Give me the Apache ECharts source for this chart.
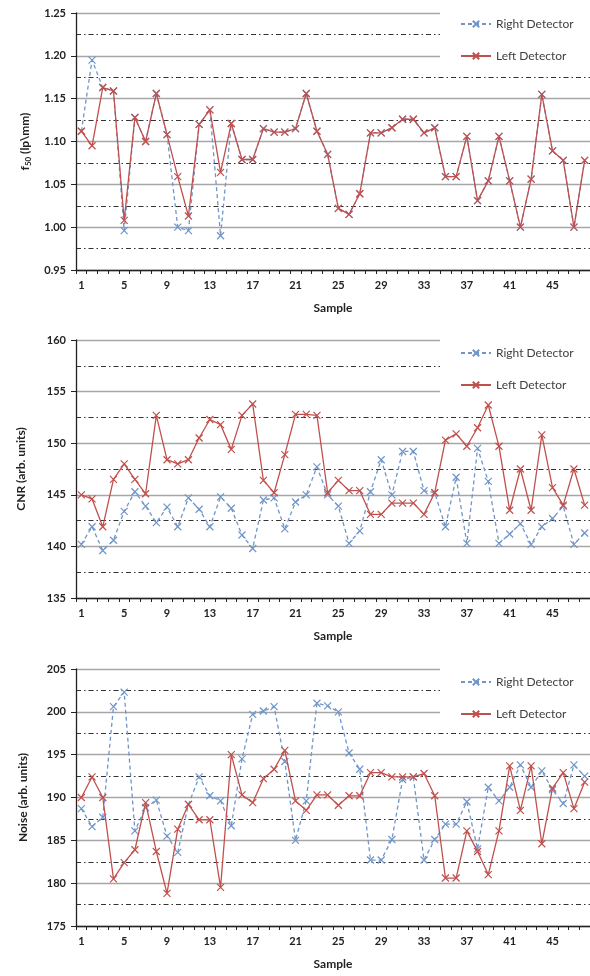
<!DOCTYPE html>
<html>
<head>
<meta charset="utf-8">
<script src="https://cdn.jsdelivr.net/npm/echarts@6/dist/echarts.min.js"></script>
<style>
html,body{margin:0;padding:0;background:#fff;}
#main{width:590px;height:976px;}
</style>
</head>
<body>
<div id="main"></div>
<script>
const samples = ['1','2','3','4','5','6','7','8','9','10','11','12','13','14','15','16','17','18','19','20','21','22','23','24','25','26','27','28','29','30','31','32','33','34','35','36','37','38','39','40','41','42','43','44','45','46','47','48'];

const f50Right = [1.112,1.195,1.163,1.159,0.996,1.128,1.100,1.156,1.108,1.000,0.996,1.120,1.137,0.990,1.121,1.079,1.079,1.115,1.111,1.111,1.115,1.156,1.112,1.085,1.022,1.015,1.039,1.110,1.110,1.116,1.126,1.126,1.110,1.116,1.059,1.059,1.106,1.031,1.054,1.106,1.054,1.000,1.056,1.155,1.089,1.078,1.000,1.078];
const f50Left  = [1.112,1.095,1.163,1.159,1.008,1.128,1.100,1.156,1.108,1.059,1.013,1.120,1.137,1.064,1.121,1.079,1.079,1.115,1.111,1.111,1.115,1.156,1.112,1.085,1.022,1.015,1.039,1.110,1.110,1.116,1.126,1.126,1.110,1.116,1.059,1.059,1.106,1.031,1.054,1.106,1.054,1.000,1.056,1.155,1.089,1.078,1.000,1.078];

const cnrRight = [140.2,141.9,139.6,140.6,143.4,145.3,143.9,142.3,143.8,141.9,144.7,143.6,141.9,144.8,143.7,141.1,139.8,144.5,144.7,141.7,144.3,145.0,147.7,145.0,143.9,140.3,141.5,145.3,148.4,145.0,149.2,149.2,145.4,145.2,141.9,146.7,140.3,149.5,146.3,140.3,141.2,142.2,140.2,141.9,142.7,143.9,140.2,141.3];
const cnrLeft  = [145.0,144.6,141.9,146.5,148.0,146.5,145.1,152.7,148.4,148.0,148.4,150.5,152.3,151.8,149.4,152.7,153.8,146.4,145.2,148.9,152.8,152.8,152.7,145.2,146.4,145.4,145.4,143.1,143.1,144.2,144.2,144.2,143.1,145.2,150.3,150.9,149.7,151.5,153.7,149.7,143.5,147.5,143.5,150.8,145.7,144.0,147.5,144.0];

const noiseRight = [188.7,186.6,187.7,200.6,202.3,186.1,188.8,189.7,185.5,183.6,189.2,192.4,190.2,189.6,186.7,194.5,199.7,200.1,200.6,194.2,185.0,189.6,201.0,200.7,200.0,195.2,193.3,182.7,182.7,185.1,192.1,192.4,182.7,185.1,186.9,186.9,189.5,184.0,191.2,189.6,191.2,193.8,191.2,193.1,190.9,189.3,193.8,192.5];
const noiseLeft  = [190.0,192.4,190.0,180.5,182.4,183.9,189.4,183.7,178.8,186.3,189.2,187.4,187.4,179.5,195.0,190.3,189.4,192.2,193.3,195.5,189.6,188.5,190.3,190.3,189.1,190.2,190.2,192.9,192.9,192.4,192.4,192.4,192.8,190.2,180.6,180.6,186.1,183.7,181.0,186.1,193.7,188.5,193.7,184.6,191.1,192.9,188.7,191.8];

const seriesNames = ['Right Detector','Left Detector'];
const yTitles = ['{a|f}{s|50}{a| (lp\\mm)}','CNR (arb. units)','Noise (arb. units)'];
const xTitle = 'Sample';

const FONT = 'Lato, "Open Sans", sans-serif';
const RED = '#c0504d';
const BLUE = '#6f95c9';
const XPATH = 'path://M0,0L10,10M10,0L0,10';

const chart = echarts.init(document.getElementById('main'), null, {renderer:'canvas'});

const gridTops = [13, 340, 669];
const gridHeights = [257, 258, 257];
const yRanges = [[0.95,1.25,0.05],[135,160,5],[175,205,5]];
const yNameGaps = [44, 49, 47];
const legendTops = [0, 325, 656];
const legendHeights = [68, 72, 68];
const legendPadTops = [18, 22, 20];

function xAxis(i){
  return {
    gridIndex:i, type:'category', data:samples, boundaryGap:true,
    axisLine:{show:true, lineStyle:{color:'#222', width:1.3}},
    axisTick:{show:true, interval:0, length:4, inside:false, lineStyle:{color:'#222', width:1}},
    axisLabel:{interval:3, margin:10, fontFamily:FONT, fontWeight:'bold', fontSize:11, color:'#222'},
    splitLine:{show:false},
    name:xTitle, nameLocation:'middle', nameGap:32,
    nameTextStyle:{fontFamily:FONT, fontWeight:'bold', fontSize:12, color:'#222'}
  };
}
function yAxis(i){
  const r = yRanges[i];
  return {
    gridIndex:i, type:'value', min:r[0], max:r[1], interval:r[2],
    axisLine:{show:true, lineStyle:{color:'#222', width:1.3}},
    axisTick:{show:true, length:5, lineStyle:{color:'#222', width:1}},
    minorTick:{show:false, splitNumber:2},
    axisLabel:{margin:10, fontFamily:FONT, fontWeight:'bold', fontSize:11, color:'#222',
      formatter: i===0 ? (v)=>v.toFixed(2) : (v)=>String(Math.round(v))},
    splitLine:{show:true, lineStyle:{color:'#a6a6a6', width:1.4}},
    minorSplitLine:{show:true, lineStyle:{color:'#333', width:1.2, type:[5,3,1.5,3]}},
    name:yTitles[i], nameLocation:'middle', nameGap:yNameGaps[i],
    nameTextStyle:{fontFamily:FONT, fontWeight:'bold', fontSize:12, color:'#222',
      rich:{a:{fontFamily:FONT, fontWeight:'bold', fontSize:12, color:'#222'},
            s:{fontFamily:FONT, fontWeight:'bold', fontSize:8, color:'#222', padding:[6,0,0,0]}}}
  };
}
function mkSeries(i, name, data){
  const isRight = name === seriesNames[0];
  const c = isRight ? BLUE : RED;
  return {
    name, type:'line', xAxisIndex:i, yAxisIndex:i, data,
    symbol:XPATH, symbolSize:7, showSymbol:true,
    lineStyle:{color:c, width:1.3, type: isRight ? [4,3] : 'solid'},
    itemStyle:{color:'rgba(0,0,0,0)', borderColor:c, borderWidth:1.2},
    emphasis:{disabled:true}, animation:false, z: isRight ? 2 : 3
  };
}

const option = {
  backgroundColor:'#fff',
  animation:false,
  grid: gridTops.map((t,i)=>({left:76, top:t, width:516, height:gridHeights[i], containLabel:false})),
  xAxis: [0,1,2].map(xAxis),
  yAxis: [0,1,2].map(yAxis),
  legend: legendTops.map((t,i)=>({
    data:seriesNames, orient:'vertical', left:440, top:t,
    width:150, height:legendHeights[i],
    padding:[legendPadTops[i], 20, Math.max(2, legendHeights[i]-legendPadTops[i]-46), 20],
    itemGap:20, itemWidth:30, itemHeight:8,
    backgroundColor:'#fff',
    textStyle:{fontFamily:FONT, fontSize:12, color:'#404040'},
    selectedMode:false, z:10
  })),
  series: [
    mkSeries(0, seriesNames[0], f50Right), mkSeries(0, seriesNames[1], f50Left),
    mkSeries(1, seriesNames[0], cnrRight), mkSeries(1, seriesNames[1], cnrLeft),
    mkSeries(2, seriesNames[0], noiseRight), mkSeries(2, seriesNames[1], noiseLeft)
  ]
};
chart.setOption(option);
</script>
</body>
</html>
